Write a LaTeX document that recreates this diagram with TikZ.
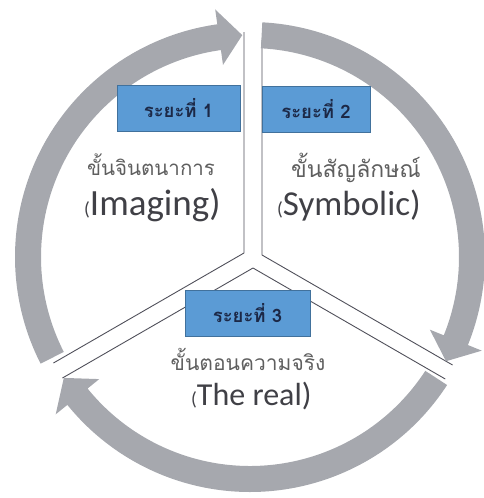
\documentclass[tikz,border=0pt]{standalone}
\usepackage{fontspec}
\setmainfont{Carlito}
\newfontfamily\thaifont[Script=Thai]{Loma}
\usepackage{xcolor}
\definecolor{ringgray}{RGB}{166,168,174}
\definecolor{stageblue}{RGB}{91,155,213}
\definecolor{stageedge}{RGB}{65,113,156}
\definecolor{stagetext}{RGB}{28,40,70}
\definecolor{labelgray}{RGB}{95,95,95}
\definecolor{termgray}{RGB}{64,64,70}
\definecolor{linegray}{RGB}{80,80,90}

% thick gray ring piece, clockwise from #1 (tail) to #2 (tip)
\newcommand\cyclearrow[2]{%
  \pgfmathsetmacro\headback{#2+6}%
  \fill[ringgray] (#1:235) arc[start angle=#1,end angle=\headback,radius=235]
    -- (\headback:250) -- (#2:222) -- (\headback:194) -- (\headback:209)
    arc[start angle=\headback,end angle=#1,radius=209] -- cycle;}
\newcommand\lparen{{\fontsize{19}{19}\selectfont(}}

\begin{document}
\begin{tikzpicture}[x=1pt,y=1pt]
  \tikzstyle{sector}=[draw=linegray,line width=0.9pt]
  \tikzstyle{stage}=[rectangle,draw=stageedge,fill=stageblue,line width=1pt,
    minimum height=46,text=stagetext,font=\thaifont\bfseries\fontsize{18.5}{20}\selectfont]
  \tikzstyle{phase}=[text=labelgray,anchor=base,inner sep=0]
  \tikzstyle{term}=[text=termgray,anchor=base west,inner sep=0]
  \useasboundingbox (0,0) rectangle (484,-498);
  \coordinate (c) at (250,-257);
  \coordinate (t1) at (244,-253);
  \coordinate (t2) at (262,-255);
  \coordinate (t3) at (253,-268);
  % segment outlines
  \draw[sector] (t1) -- ++(90:221) (t1) -- ++(210:220);
  \draw[sector] (t2) -- ++(90:215) (t2) -- ++(-30:220);
  \draw[sector] (t3) -- ++(210:220) (t3) -- ++(-30:222);
  % the ring
  \begin{scope}[shift={(c)}]
    \cyclearrow{207}{92}
    \cyclearrow{87}{-28}
    \cyclearrow{-33}{-147}
  \end{scope}
  \node[stage,minimum width=123] (s1) at (178.5,-108.5) {ระยะที่ 1};
  \node[stage,minimum width=108] (s2) at (316,-109.5) {ระยะที่ 2};
  \node[stage,minimum width=125] (s3) at (247.5,-313) {ระยะที่ 3};
  \node[phase,font=\thaifont\fontsize{20.5}{22}\selectfont] (p1) at (151,-175) {ขั้นจินตนาการ};
  \node[phase,font=\thaifont\fontsize{23}{25}\selectfont] (p2) at (356,-177) {ขั้นสัญลักษณ์};
  \node[phase,font=\thaifont\fontsize{21}{23}\selectfont] (p3) at (248,-370) {ขั้นตอนความจริง};
  \node[term,font=\fontsize{37}{40}\selectfont] (e1) at (84,-215) {\lparen Imaging)};
  \node[term,font=\fontsize{35}{38}\selectfont] (e2) at (277,-215) {\lparen Symbolic)};
  \node[term,font=\fontsize{32}{35}\selectfont] (e3) at (191,-405) {\lparen The real)};
\end{tikzpicture}
\end{document}
